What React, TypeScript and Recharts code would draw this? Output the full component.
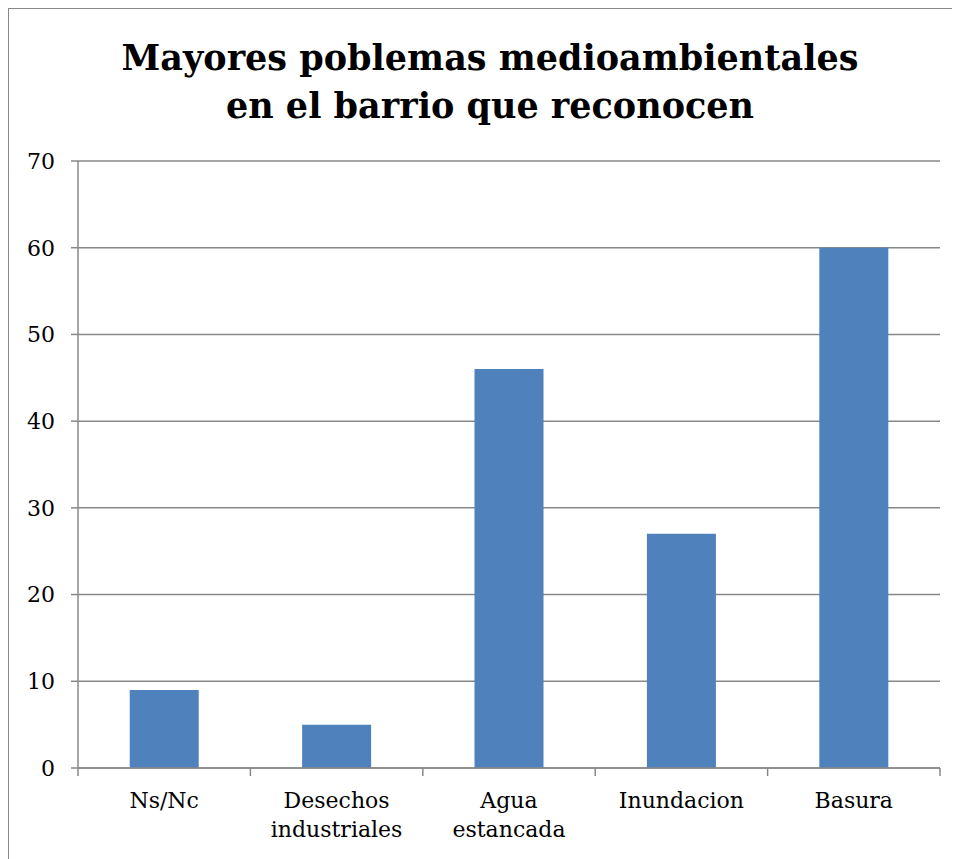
import React from 'react';
import { BarChart, Bar, XAxis, YAxis, CartesianGrid } from 'recharts';

const categories = ['Ns/Nc', 'Desechos industriales', 'Agua estancada', 'Inundacion', 'Basura'];
const counts = [9, 5, 46, 27, 60];
const yTicks = [0, 10, 20, 30, 40, 50, 60, 70];

const titleLines = ['Mayores poblemas medioambientales', 'en el barrio que reconocen'];

const FONT = '"DejaVu Serif", serif';
const AXIS = '#888';
const TICK = 8;

const data = categories.map((name, i) => ({ name, value: counts[i] }));

// label + tick marks on the category boundaries (Excel style)
const CategoryTick = (props: any) => {
    const { x, y, payload, index } = props;
    const half = payload.offset || 0;
    const words: string[] = String(payload.value).split(' ');
    return (
        <g>
            <line x1={x - half} x2={x - half} y1={y - TICK} y2={y} stroke={AXIS} strokeWidth={1.5} />
            {index === categories.length - 1 && (
                <line x1={x + half} x2={x + half} y1={y - TICK} y2={y} stroke={AXIS} strokeWidth={1.5} />
            )}
            <text x={x} y={y} textAnchor="middle" fill="#000" fontFamily={FONT} fontSize={22}>
                {words.map((w, i) => (
                    <tspan key={i} x={x} dy={i === 0 ? 32 : 29}>{w}</tspan>
                ))}
            </text>
        </g>
    );
};

const App: React.FC = () => {
    return (
        <div style={{ position: 'relative', width: 952, height: 851, borderLeft: '1px solid #888', borderTop: '1px solid #888', boxSizing: 'border-box' }}>
            <div style={{ position: 'absolute', left: 0, top: 25, width: 962, textAlign: 'center', fontFamily: FONT, fontWeight: 'bold', fontSize: 35, lineHeight: '48px', color: '#000' }}>
                {titleLines.map((l, i) => <div key={i}>{l}</div>)}
            </div>
            <BarChart
                width={951}
                height={850}
                data={data}
                margin={{ top: 153, right: 19, bottom: 0, left: 0 }}
                barCategoryGap="30%"
                style={{ position: 'absolute', left: -1, top: -1 }}
            >
                <CartesianGrid vertical={false} stroke={AXIS} strokeWidth={1.5} />
                <XAxis
                    dataKey="name"
                    height={90}
                    interval={0}
                    tickSize={TICK}
                    tickMargin={0}
                    tick={<CategoryTick />}
                    tickLine={{ stroke: 'none' }}
                    axisLine={{ stroke: AXIS, strokeWidth: 1.5 }}
                />
                <YAxis
                    width={70}
                    domain={[0, 70]}
                    ticks={yTicks}
                    interval={0}
                    tickSize={7}
                    tickMargin={16}
                    stroke={AXIS}
                    tick={{ fill: '#000', fontFamily: FONT, fontSize: 22 }}
                    tickLine={{ stroke: AXIS, strokeWidth: 1.5 }}
                    axisLine={{ stroke: AXIS, strokeWidth: 1.5 }}
                />
                <Bar dataKey="value" fill="#4F81BD" isAnimationActive={false} />
            </BarChart>
        </div>
    );
};

export default App;
